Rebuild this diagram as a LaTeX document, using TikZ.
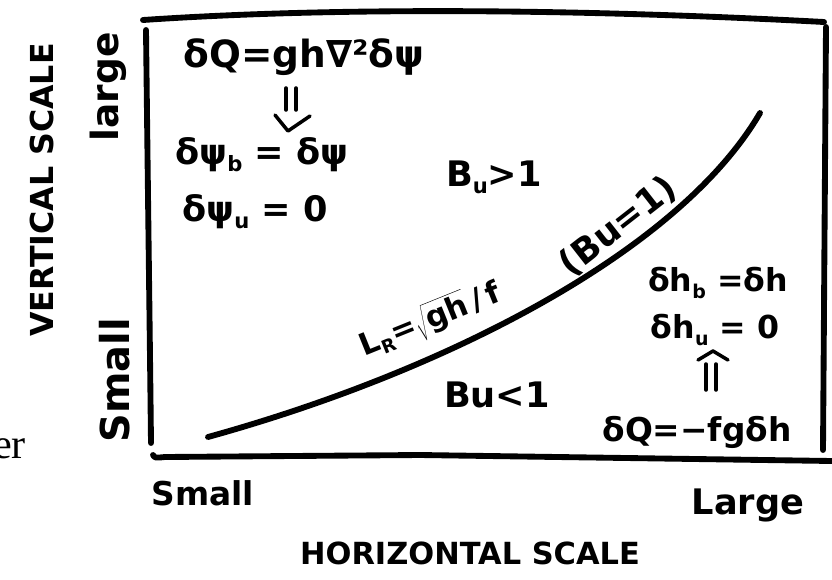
\documentclass[tikz,border=0pt]{standalone}
\usepackage{fontspec}
\setmainfont{DejaVu Sans}
\newfontfamily\serifer{Liberation Serif}
\usepackage{graphicx}
\newcommand\sbs[1]{\raisebox{-0.35ex}{\scalebox{0.6}{#1}}}
\newcommand\fsz[1]{\bfseries\fontsize{#1}{#1}\selectfont}
\begin{document}
\begin{tikzpicture}[x=0.03cm,y=-0.03cm,line cap=round,line join=round,
  stroke/.style={line width=5pt},
  pen/.style={line width=3pt},
  hand/.style={font=\fsz{30},inner sep=0pt},
  axlab/.style={font=\fsz{26},inner sep=0pt}]
\useasboundingbox (0,0) rectangle (832,579);
% frame
\coordinate (tl) at (143,20);
\coordinate (tr) at (824,22);
\coordinate (rtop) at (826,27);
\coordinate (rbot) at (823,450);
\coordinate (ltop) at (146,30);
\coordinate (lbot) at (151,443);
\coordinate (bl) at (153,455);
\coordinate (bre) at (832,461);
\draw[stroke] (tl) .. controls (350,6) and (600,10) .. (tr);
\draw[stroke] (rtop) -- (rbot);
\draw[stroke] (ltop) .. controls (148,200) and (150,350) .. (lbot);
\draw[stroke] (bl) .. controls (155,458) .. (165,457) -- (420,455) -- (bre);
% Bu = 1 curve
\coordinate (cs) at (208,437);
\coordinate (ce) at (760,113);
\draw[stroke] (cs) .. controls (450,370) and (680,250) .. (ce);
% texts
\node[hand,font=\fsz{32}] (dq) at (304,57) {δQ=gh∇²δψ};
\node[hand] (psib) at (262,155) {δψ\sbs{b} = δψ};
\node[hand] (psiu) at (255,212) {δψ\sbs{u} = 0};
\node[hand] (bugt) at (494,177) {B\sbs{u}>1};
\node[hand,rotate=38] (bueq) at (618,226) {(Bu=1)};
\node[hand,rotate=22,font=\fsz{26}] (lr) at (430,320) {L\sbs{R}=$\sqrt{\hbox{gh}}$\,/\,f};
\node[hand] (bult) at (497,395) {Bu<1};
\node[hand,font=\fsz{27}] (hb) at (718,283) {δh\sbs{b} =δh};
\node[hand,font=\fsz{27}] (hu) at (715,330) {δh\sbs{u} = 0};
\node[hand,font=\fsz{28}] (dq2) at (697,432) {δQ=−fgδh};
\node[hand] (largex) at (748,505) {Large};
\node[hand,font=\fsz{28}] (smallx) at (203,493) {Small};
\node[axlab] (hlab) at (470,553) {HORIZONTAL SCALE};
\node[axlab,font=\fsz{27},rotate=90] (vlab) at (42,190) {VERTICAL SCALE};
\node[hand,font=\fsz{32},rotate=90] (largey) at (108,87) {large};
\node[hand,rotate=90,font=\fsz{34}] (smally) at (115,380) {Small};
\node[font=\serifer\fontsize{36}{36}\selectfont,anchor=base east,inner sep=0pt] (er) at (26,458) {er};
% implication arrows (hand drawn)
\draw[pen] (286,88) -- (286,110);
\draw[pen] (296,88) -- (296,110);
\draw[pen] (275,115) -- (288,131) -- (310,116);
\draw[pen] (706,364) -- (706,390);
\draw[pen] (716,364) -- (716,390);
\draw[pen] (698,360) -- (713,351) -- (728,360);
\end{tikzpicture}
\end{document}
